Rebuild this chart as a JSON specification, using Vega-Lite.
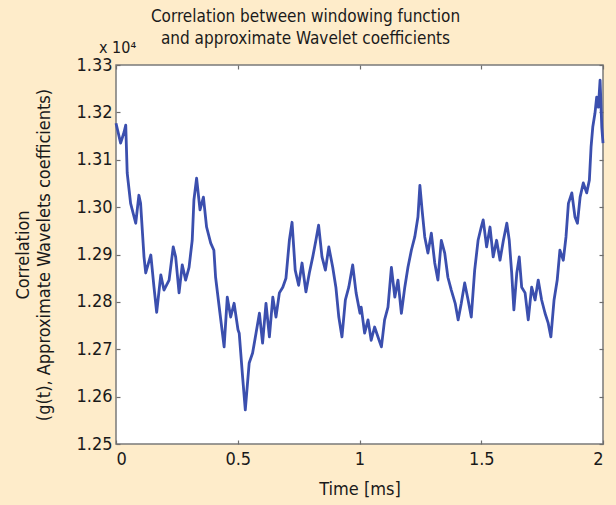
{
  "$schema": "https://vega.github.io/schema/vega-lite/v6.json",
  "width": 487,
  "height": 379,
  "autosize": "none",
  "padding": {"left": 116, "top": 65, "right": 13, "bottom": 61},
  "background": "#feecca",
  "config": {
    "font": "DejaVu Sans Condensed",
    "view": {"fill": "white", "stroke": "#7a7a7a", "strokeWidth": 1.5},
    "axis": {"domain": false, "grid": false, "tickColor": "#6e6e6e", "tickSize": -4, "tickWidth": 1.2, "labelColor": "#1a1a1a", "titleColor": "#1a1a1a", "labelFontSize": 18, "titleFontSize": 18, "titleFontWeight": "normal"}
  },
  "title": {
    "text": ["Correlation between windowing function", "and approximate Wavelet coefficients"],
    "fontSize": 17,
    "fontWeight": "normal",
    "color": "#1a1a1a",
    "lineHeight": 22,
    "anchor": "middle",
    "frame": "group",
    "dx": -54,
    "offset": -8
  },
  "data": {"values": [
    {"t": 0.000, "c": 13177}, {"t": 0.019, "c": 13135}, {"t": 0.033, "c": 13158}, {"t": 0.040, "c": 13173},
    {"t": 0.046, "c": 13072}, {"t": 0.060, "c": 13008}, {"t": 0.081, "c": 12966}, {"t": 0.094, "c": 13025},
    {"t": 0.101, "c": 13008}, {"t": 0.115, "c": 12895}, {"t": 0.122, "c": 12861}, {"t": 0.143, "c": 12899},
    {"t": 0.156, "c": 12831}, {"t": 0.167, "c": 12778}, {"t": 0.184, "c": 12857}, {"t": 0.197, "c": 12825},
    {"t": 0.218, "c": 12846}, {"t": 0.235, "c": 12916}, {"t": 0.245, "c": 12895}, {"t": 0.259, "c": 12819},
    {"t": 0.272, "c": 12878}, {"t": 0.286, "c": 12846}, {"t": 0.300, "c": 12873}, {"t": 0.313, "c": 12930},
    {"t": 0.320, "c": 13015}, {"t": 0.331, "c": 13061}, {"t": 0.345, "c": 12994}, {"t": 0.359, "c": 13021},
    {"t": 0.372, "c": 12958}, {"t": 0.389, "c": 12924}, {"t": 0.402, "c": 12909}, {"t": 0.409, "c": 12852},
    {"t": 0.427, "c": 12776}, {"t": 0.444, "c": 12705}, {"t": 0.457, "c": 12810}, {"t": 0.471, "c": 12768},
    {"t": 0.485, "c": 12797}, {"t": 0.501, "c": 12741}, {"t": 0.506, "c": 12734}, {"t": 0.520, "c": 12641},
    {"t": 0.531, "c": 12572}, {"t": 0.547, "c": 12671}, {"t": 0.561, "c": 12692}, {"t": 0.575, "c": 12734},
    {"t": 0.589, "c": 12776}, {"t": 0.602, "c": 12713}, {"t": 0.616, "c": 12797}, {"t": 0.630, "c": 12726},
    {"t": 0.644, "c": 12810}, {"t": 0.657, "c": 12768}, {"t": 0.671, "c": 12819}, {"t": 0.685, "c": 12831},
    {"t": 0.698, "c": 12850}, {"t": 0.712, "c": 12930}, {"t": 0.723, "c": 12968}, {"t": 0.736, "c": 12867},
    {"t": 0.750, "c": 12835}, {"t": 0.764, "c": 12882}, {"t": 0.780, "c": 12821}, {"t": 0.794, "c": 12861},
    {"t": 0.808, "c": 12895}, {"t": 0.821, "c": 12930}, {"t": 0.832, "c": 12962}, {"t": 0.846, "c": 12895},
    {"t": 0.860, "c": 12867}, {"t": 0.874, "c": 12916}, {"t": 0.890, "c": 12873}, {"t": 0.903, "c": 12831},
    {"t": 0.915, "c": 12768}, {"t": 0.928, "c": 12726}, {"t": 0.942, "c": 12804}, {"t": 0.956, "c": 12831},
    {"t": 0.972, "c": 12878}, {"t": 0.986, "c": 12819}, {"t": 1.002, "c": 12776}, {"t": 1.007, "c": 12789},
    {"t": 1.021, "c": 12734}, {"t": 1.035, "c": 12762}, {"t": 1.048, "c": 12719}, {"t": 1.062, "c": 12747},
    {"t": 1.076, "c": 12726}, {"t": 1.090, "c": 12705}, {"t": 1.103, "c": 12762}, {"t": 1.117, "c": 12789},
    {"t": 1.131, "c": 12873}, {"t": 1.145, "c": 12810}, {"t": 1.158, "c": 12846}, {"t": 1.172, "c": 12776},
    {"t": 1.186, "c": 12831}, {"t": 1.199, "c": 12873}, {"t": 1.213, "c": 12909}, {"t": 1.227, "c": 12937},
    {"t": 1.240, "c": 12979}, {"t": 1.248, "c": 13046}, {"t": 1.257, "c": 12994}, {"t": 1.268, "c": 12937},
    {"t": 1.281, "c": 12903}, {"t": 1.295, "c": 12945}, {"t": 1.309, "c": 12882}, {"t": 1.322, "c": 12846},
    {"t": 1.336, "c": 12930}, {"t": 1.350, "c": 12903}, {"t": 1.363, "c": 12852}, {"t": 1.377, "c": 12825},
    {"t": 1.393, "c": 12797}, {"t": 1.405, "c": 12762}, {"t": 1.418, "c": 12797}, {"t": 1.432, "c": 12840},
    {"t": 1.446, "c": 12804}, {"t": 1.459, "c": 12768}, {"t": 1.473, "c": 12867}, {"t": 1.487, "c": 12930},
    {"t": 1.500, "c": 12958}, {"t": 1.508, "c": 12973}, {"t": 1.522, "c": 12916}, {"t": 1.536, "c": 12958},
    {"t": 1.549, "c": 12895}, {"t": 1.563, "c": 12930}, {"t": 1.577, "c": 12888}, {"t": 1.591, "c": 12930},
    {"t": 1.605, "c": 12966}, {"t": 1.615, "c": 12930}, {"t": 1.625, "c": 12861}, {"t": 1.634, "c": 12783},
    {"t": 1.646, "c": 12861}, {"t": 1.656, "c": 12895}, {"t": 1.666, "c": 12831}, {"t": 1.680, "c": 12819},
    {"t": 1.693, "c": 12762}, {"t": 1.707, "c": 12831}, {"t": 1.721, "c": 12804}, {"t": 1.734, "c": 12846},
    {"t": 1.748, "c": 12804}, {"t": 1.762, "c": 12776}, {"t": 1.775, "c": 12755}, {"t": 1.786, "c": 12726},
    {"t": 1.799, "c": 12804}, {"t": 1.812, "c": 12846}, {"t": 1.823, "c": 12909}, {"t": 1.837, "c": 12888},
    {"t": 1.848, "c": 12937}, {"t": 1.858, "c": 13008}, {"t": 1.872, "c": 13030}, {"t": 1.885, "c": 12979},
    {"t": 1.895, "c": 12966}, {"t": 1.906, "c": 13021}, {"t": 1.919, "c": 13051}, {"t": 1.933, "c": 13030},
    {"t": 1.944, "c": 13057}, {"t": 1.951, "c": 13127}, {"t": 1.958, "c": 13169}, {"t": 1.967, "c": 13198},
    {"t": 1.974, "c": 13232}, {"t": 1.981, "c": 13211}, {"t": 1.988, "c": 13268}, {"t": 1.995, "c": 13169},
    {"t": 2.000, "c": 13135}
  ]},
  "layer": [
    {
      "mark": {"type": "line", "color": "#3b4fae", "strokeWidth": 2.8, "strokeJoin": "round"},
      "encoding": {
        "x": {"field": "t", "type": "quantitative", "scale": {"domain": [0, 2], "nice": false, "zero": false},
              "axis": {"orient": "bottom", "values": [0, 0.5, 1, 1.5, 2], "format": "~g", "title": "Time [ms]", "labelPadding": 10, "titlePadding": 12}},
        "y": {"field": "c", "type": "quantitative", "scale": {"domain": [12500, 13300], "nice": false, "zero": false},
              "axis": {"orient": "left", "values": [12500, 12600, 12700, 12800, 12900, 13000, 13100, 13200, 13300], "labelExpr": "format(datum.value / 10000, '.2f')", "title": ["Correlation", "(g(t), Approximate Wavelets coefficients)"], "titleLineHeight": 21, "labelPadding": 8, "titlePadding": 22}}
      }
    },
    {
      "mark": {"type": "line", "strokeOpacity": 0},
      "encoding": {
        "x": {"field": "t", "type": "quantitative", "scale": {"domain": [0, 2], "nice": false, "zero": false},
              "axis": {"orient": "top", "values": [0, 0.5, 1, 1.5, 2], "labels": false, "title": null}},
        "y": {"field": "c", "type": "quantitative", "scale": {"domain": [12500, 13300], "nice": false, "zero": false},
              "axis": {"orient": "right", "values": [12500, 12600, 12700, 12800, 12900, 13000, 13100, 13200, 13300], "labels": false, "title": null}}
      }
    },
    {
      "data": {"values": [{"t": 0, "c": 13300, "label": "x 10⁴"}]},
      "mark": {"type": "text", "align": "left", "baseline": "alphabetic", "fontSize": 16, "color": "#1a1a1a", "dx": -17, "dy": -12},
      "encoding": {
        "x": {"field": "t", "type": "quantitative", "scale": {"domain": [0, 2], "nice": false, "zero": false}, "axis": null},
        "y": {"field": "c", "type": "quantitative", "scale": {"domain": [12500, 13300], "nice": false, "zero": false}, "axis": null},
        "text": {"field": "label"}
      }
    }
  ],
  "resolve": {"axis": {"x": "independent", "y": "independent"}}
}
